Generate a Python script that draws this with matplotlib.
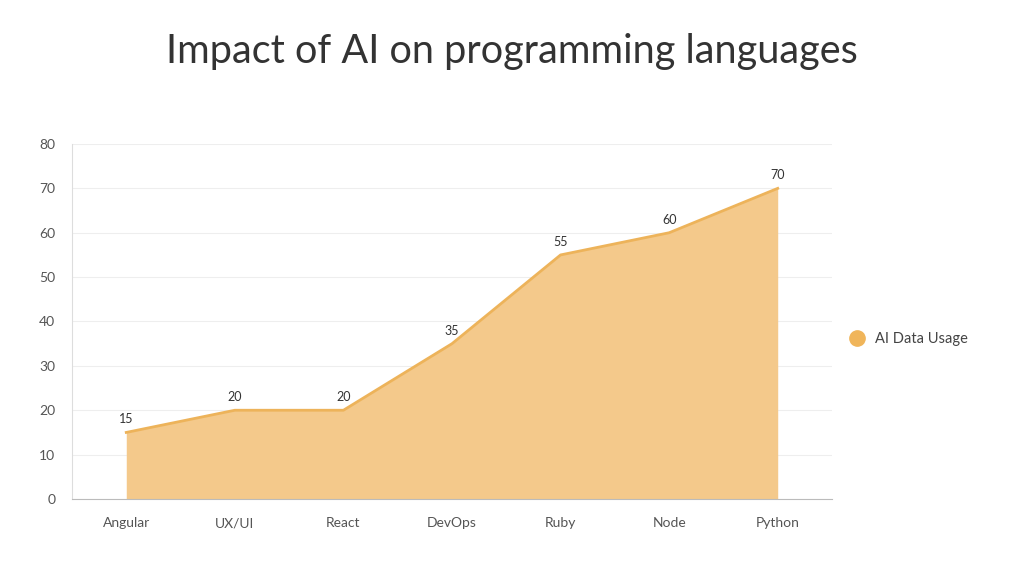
import matplotlib.pyplot as plt
from matplotlib.lines import Line2D

categories = ["Angular", "UX/UI", "React", "DevOps", "Ruby", "Node", "Python"]
usage = [15, 20, 20, 35, 55, 60, 70]
y_ticks = [0, 10, 20, 30, 40, 50, 60, 70, 80]

plt.rcParams["font.family"] = ["Lato", "DejaVu Sans"]

fig = plt.figure(figsize=(10.24, 5.76), dpi=100)
ax = fig.add_axes([0.0703, 0.1337, 0.7422, 0.6163])

x = list(range(len(categories)))
ax.fill_between(x, usage, 0, color="#F4C98B", linewidth=0, zorder=2)
ax.plot(x, usage, color="#EDB35A", linewidth=2, zorder=3)

for i, v in enumerate(usage):
    ax.annotate(str(v), (i, v), xytext=(0, 5), textcoords="offset points",
                ha="center", va="bottom", fontsize=9, color="#333333")

ax.set_xlim(-0.5, len(categories) - 0.5)
ax.set_ylim(0, 80)
ax.set_xticks(x)
ax.set_xticklabels(categories)
ax.set_yticks(y_ticks)
ax.tick_params(axis="both", length=0, labelsize=10, colors="#555555")
ax.tick_params(axis="x", pad=13)
ax.tick_params(axis="y", pad=12)
ax.grid(axis="y", color="#eeeeee", linewidth=0.8, zorder=0)
ax.set_axisbelow(True)
for s in ["top", "right"]:
    ax.spines[s].set_visible(False)
ax.spines["left"].set_color("#dddddd")
ax.spines["bottom"].set_color("#bbbbbb")

handle = Line2D([], [], marker="o", linestyle="none", markersize=11,
                markerfacecolor="#F0B55A", markeredgecolor="#F0B55A")
fig.legend([handle], ["AI Data Usage"], loc="center left",
           bbox_to_anchor=(0.81, 0.411), frameon=False, fontsize=10.5,
           labelcolor="#444444", handletextpad=0.2)

fig.text(0.5, 0.91, "Impact of AI on programming languages", ha="center",
         va="center", fontsize=28.5, color="#333333")

fig.savefig("out.png", dpi=100)
